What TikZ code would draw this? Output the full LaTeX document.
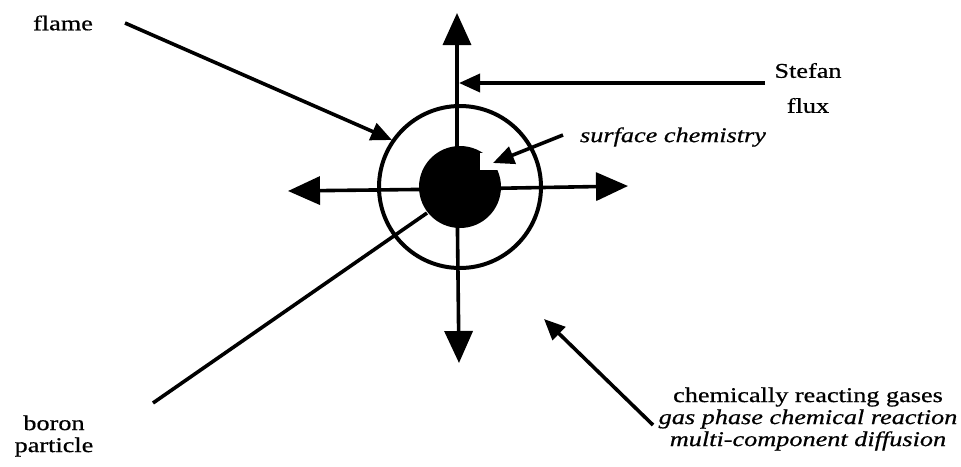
\documentclass[tikz,border=0pt]{standalone}
\usepackage{fontspec}
\setmainfont[FakeStretch=1.25,FakeBold=0.6]{Liberation Serif}
\usetikzlibrary{arrows.meta}
\begin{document}
\begin{tikzpicture}[x=1pt,y=-1pt,
  ln/.style={line width=3.6pt},
  big/.style={ln,-{Triangle[length=32pt,width=28pt]}},
  small/.style={ln,-{Triangle[length=21pt,width=18pt]}},
  lbl/.style={inner sep=0pt,font=\fontsize{21}{22}\selectfont},
  ilbl/.style={lbl,font=\fontsize{21}{22}\selectfont\itshape}]
\useasboundingbox (0,0) rectangle (961,466);
% particle and flame sheet
\fill[black] (460,187) circle[radius=41pt];
\coordinate (pc) at (460,187);
\draw[line width=4pt] (pc) circle[radius=81pt];
% cross arrows
\coordinate (vc) at (457,189);
\coordinate (up) at (457,13);
\coordinate (down) at (459,363);
\coordinate (left) at (288,191);
\coordinate (right) at (628,186);
\draw[big] (vc) -- (up);
\draw[big] (vc) -- (down);
\draw[big] (vc) -- (left);
\draw[big] (vc) -- (right);
% surface site
\fill[white] (480,153) rectangle (498,170);
% labels
\node[lbl] (flame) at (63,23) {flame};
\node[lbl,align=center] (stefan) at (808,88) {Stefan\\[13pt]flux};
\node[ilbl] (surf) at (673,137) {surface chemistry};
\node[lbl,align=center] (boron) at (54,436) {boron\\particle};
\node[lbl,align=center] (gases) at (808,419) {chemically reacting gases\\
  \itshape gas phase chemical reaction\\ \itshape multi-component diffusion};
% connectors
\coordinate (fs) at (125,23);
\coordinate (ft) at (392,140);
\draw[small] (fs) -- (ft);
\coordinate (ss) at (765,83);
\coordinate (st) at (459,83);
\draw[small] (ss) -- (st);
\coordinate (cs) at (563,135);
\coordinate (ct) at (493,163);
\draw[small] (cs) -- (ct);
\coordinate (bs) at (153,403);
\coordinate (be) at (427,213);
\draw[ln] (bs) -- (be);
\coordinate (gs) at (653,425);
\coordinate (gt) at (544,319);
\draw[small] (gs) -- (gt);
\end{tikzpicture}
\end{document}
